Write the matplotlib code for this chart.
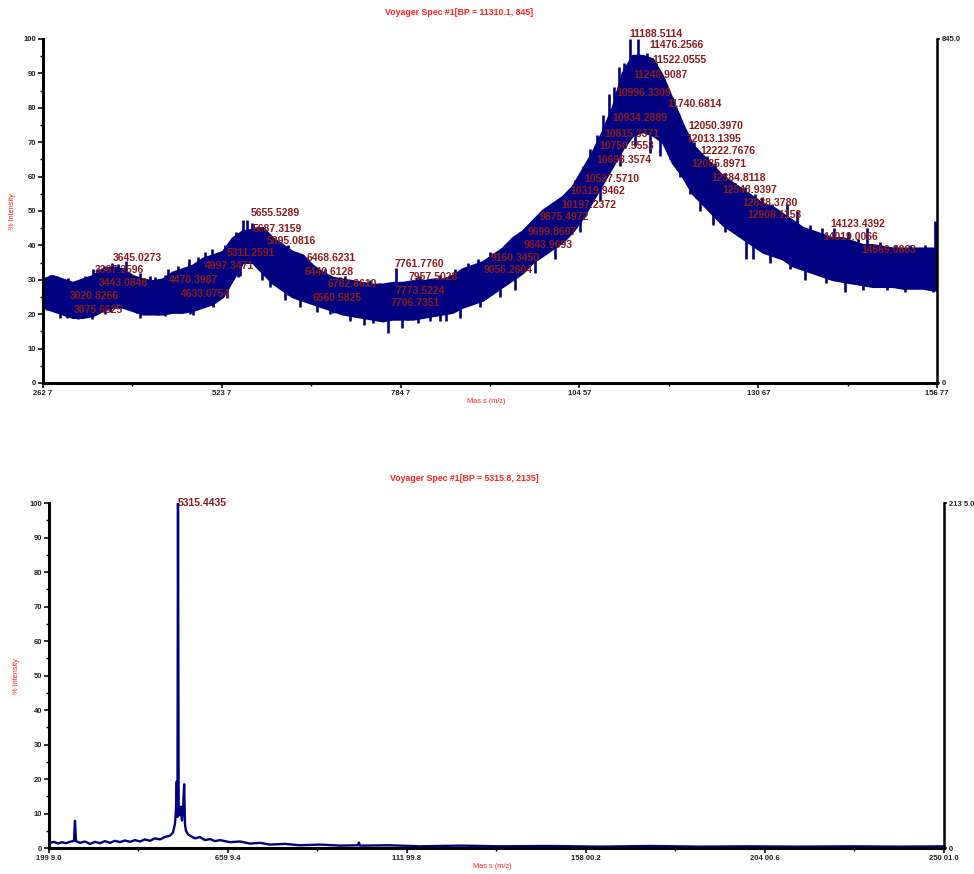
import numpy as np
import matplotlib
matplotlib.use("Agg")
import matplotlib.pyplot as plt
from matplotlib.ticker import FixedLocator, MultipleLocator

plt.rcParams['font.family'] = ['Liberation Sans', 'DejaVu Sans']

NAVY = '#000080'
PEAK_RED = '#8B1A1A'
RED = '#FF2020'

# ---- top spectrum: band of the noisy trace (mass, lower edge, upper edge)
top_mass = [2627, 2773, 2919, 3065, 3211, 3357, 3503, 3649, 3795, 3941,
            4087, 4233, 4379, 4525, 4671, 4817, 4963, 5109, 5255, 5401,
            5546, 5692, 5838, 5984, 6130, 6276, 6422, 6568, 6714, 6860,
            7006, 7152, 7298, 7444, 7590, 7736, 7882, 8028, 8174, 8320,
            8466, 8612, 8758, 8904, 9050, 9196, 9342, 9488, 9634, 9780,
            9926, 10072, 10218, 10364, 10510, 10655, 10801, 10947, 11093, 11239,
            11385, 11531, 11677, 11823, 11969, 12115, 12261, 12407, 12553, 12699,
            12845, 12991, 13137, 13283, 13429, 13575, 13721, 13867, 14013, 14159,
            14305, 14451, 14597, 14743, 14889, 15035, 15181, 15327, 15473, 15619,
            15677]
top_lo = [22, 21, 20, 19, 19, 19.5, 21, 22, 22, 21,
          20, 20, 20, 20.5, 20.5, 21, 22, 23, 25, 30,
          35, 35, 32, 29, 27, 25, 24, 23, 22, 21,
          20, 19.5, 19, 18.5, 18, 18.5, 18.5, 18.5, 19, 19.5,
          20, 20.5, 22, 23, 24, 26, 28, 30, 32, 35,
          37, 39, 41, 44, 48, 53, 58, 63, 68, 72,
          73, 72, 70, 64, 60, 55, 52, 49, 46, 44,
          42, 40, 38, 37, 36, 34, 33, 32, 31, 30,
          29.5, 29, 28.5, 28, 28, 28, 27.5, 27.5, 27.5, 27,
          27]
top_hi = [30, 31, 30, 29, 30, 31, 33, 33.5, 33, 31,
          30, 29.5, 30, 32, 33, 34, 36, 37, 38, 42,
          44, 44.5, 45, 42, 40, 38, 37, 34, 32, 30.5,
          30, 29.5, 29, 28.5, 28.5, 29, 29, 29.5, 29.5, 30,
          30, 31, 33, 34, 35, 37, 39, 42, 44, 47,
          50, 52, 54, 57, 62, 67, 73, 80, 90, 95,
          95, 94, 89, 82, 75, 69, 66, 63, 60, 58,
          56, 54, 52, 51, 49, 47, 45, 44, 43, 42,
          42, 41, 40, 40, 39.5, 39, 39, 39, 39, 39,
          38]

# single points sticking out above the band
top_spike_mass = [2685, 2729, 2831, 2992, 3021, 3240, 3284, 3357, 3415, 3517,
                  3561, 3634, 3722, 3839, 3897, 4043, 4189, 4262, 4408, 4452,
                  4598, 4758, 4890, 4992, 5094, 5240, 5284, 5386, 5444, 5546,
                  5605, 5678, 5765, 5882, 6086, 6203, 6335, 6481, 6539, 6641,
                  6743, 6962, 7035, 7152, 7371, 7400, 7546, 7780, 8086, 8130,
                  8320, 8422, 8568, 8641, 8831, 8977, 9152, 9371, 9546, 9590,
                  9707, 9882, 9998, 10130, 10217, 10261, 10393, 10509, 10612, 10714,
                  10801, 10889, 10962, 11035, 11108, 11195, 11312, 11385, 11444, 11502,
                  11575, 11648, 11721, 11809, 11911, 12013, 12130, 12217, 12319, 12436,
                  12582, 12728, 12874, 13020, 13122, 13268, 13487, 13633, 13823, 13998,
                  14173, 14377, 14524, 14655, 14845, 15078, 15283, 15502, 15647]
top_spike_val = [30.5, 31.5, 31, 30.5, 29.5, 31, 30, 33, 33, 34,
                 32, 35, 34.5, 35.5, 30.9, 32, 31, 30.9, 31.4, 33,
                 34, 36, 36.5, 38, 39, 36.2, 40, 39.4, 44, 47.5,
                 47.5, 46.5, 45.5, 44, 41, 40, 38, 35.3, 35, 31.9,
                 33, 30.9, 31, 30, 29.5, 30, 29, 33.5, 30.9, 31,
                 30, 31.5, 31.4, 33, 35, 36, 38, 40, 43, 44,
                 45, 48, 51, 53, 54.5, 55, 59, 63, 68, 72,
                 78, 84, 86, 92, 93, 100, 100, 95, 96, 94,
                 93, 90, 87, 83, 78, 72, 70, 67, 66, 64,
                 61, 58, 57, 55, 54, 52, 52, 50, 46, 45,
                 45, 44, 42, 45, 41, 40, 40, 40, 47]
# single points dropping below the band
top_dip_mass = [2685, 2875, 2977, 3138, 3342, 3532, 3605, 3999, 4043, 4306,
                4408, 4627, 4773, 4817, 5108, 5313, 5473, 5503, 5824, 5941,
                6159, 6203, 6378, 6627, 6816, 6860, 7108, 7313, 7444, 7663,
                7867, 7940, 8101, 8276, 8422, 8510, 8714, 9006, 9298, 9517,
                9809, 10101, 10466, 10758, 11049, 11268, 11487, 11633, 11779, 11925,
                12071, 12217, 12407, 12582, 12889, 12991, 13239, 13531, 13750, 14057,
                14334, 14597, 14947, 15210, 15618]
top_dip_val = [21.2, 19, 18.9, 18.5, 18.5, 20, 20.7, 20.4, 19, 19.8,
               19.5, 20.3, 20, 19.8, 22, 24.6, 30.9, 31, 30, 28,
               24, 25.5, 22, 20.7, 20, 20.3, 18, 17, 17.4, 14.5,
               16, 18.3, 17.5, 17.9, 17.9, 18, 19, 22, 25, 27,
               32, 36, 44, 53, 63, 69, 67, 66, 65, 60,
               55, 50, 46, 44, 36, 36, 35, 33, 30, 29,
               26.5, 27, 27, 26.5, 26.5]

top_peak_mass = [11188.5114, 11476.2566, 11522.0555, 11240.9087, 10996.3309,
                 11740.6814, 10934.2889, 12050.3970, 10815.3371, 12013.1395,
                 10750.5553, 12222.7676, 10698.3574, 12085.8971, 10527.5710,
                 12384.8118, 10319.9462, 12543.9397, 10197.2372, 12838.3780,
                 9875.4972, 12908.1153, 9699.8607, 9643.9693, 9160.3450,
                 9056.2604, 14123.4392, 14019.0066, 14569.0863, 5655.5289,
                 5687.3159, 5895.0816, 5311.2591, 4997.3471, 6468.6231,
                 6440.6128, 6782.8610, 6560.5825, 3645.0273, 3387.2596,
                 3443.0848, 4470.3987, 4633.0754, 3020.8266, 3075.6625,
                 7761.7760, 7957.5028, 7773.5224, 7706.7351]
# where the software put each label (in % intensity)
top_label_y = [101.5, 98.3, 93.9, 89.5, 84.3,
               81.1, 77.0, 74.7, 72.4, 70.9,
               68.9, 67.4, 64.8, 63.7, 59.3,
               59.6, 55.8, 56.1, 51.7, 52.3,
               48.3, 48.8, 43.9, 40.1, 36.3,
               32.8, 46.2, 42.4, 38.7, 49.4,
               44.8, 41.3, 37.8, 34.0, 36.3,
               32.3, 28.8, 24.7, 36.3, 32.8,
               29.1, 29.9, 25.9, 25.3, 21.2,
               34.6, 30.8, 26.7, 23.3]

top_xticks = [2627, 5237, 7847, 10457, 13067, 15677]
top_xticklabels = ['262 7', '523 7', '784 7', '104 57', '130 67', '156 77']

# ---- bottom spectrum
bot_mass = [1999, 2025, 2128, 2230, 2333, 2436, 2539, 2642, 2667, 2693,
            2796, 2924, 3053, 3181, 3310, 3438, 3567, 3695, 3824, 3952,
            4081, 4209, 4338, 4466, 4595, 4723, 4852, 4980, 5109, 5186,
            5237, 5263, 5283, 5301, 5315, 5333, 5366, 5391, 5417, 5443,
            5474, 5494, 5520, 5571, 5622, 5751, 5880, 6008, 6137, 6265,
            6394, 6651, 6908, 7165, 7422, 7679, 8064, 8450, 8964, 9478,
            9940, 9966, 9992, 10763, 11534, 12562, 13590, 14875, 16160, 17445,
            18730, 20015, 21300, 22585, 23869, 25001]
bot_int = [14, 1.5, 1.8, 1.3, 1.7, 1.4, 1.8, 2.1, 7.9, 2.0,
           1.5, 1.9, 1.2, 1.8, 1.4, 2.0, 1.5, 2.1, 1.7, 2.2,
           1.8, 2.3, 1.9, 2.5, 2.1, 2.8, 2.5, 3.2, 3.6, 4.5,
           7, 11, 19.3, 9, 100, 10, 9.5, 12, 8, 11,
           18.5, 7, 5, 4, 3.6, 2.8, 3.2, 2.3, 2.6, 2.0,
           2.3, 1.7, 1.9, 1.3, 1.5, 1.0, 1.2, 0.8, 1.0, 0.7,
           0.8, 1.6, 0.7, 0.8, 0.5, 0.7, 0.5, 0.6, 0.4, 0.6,
           0.4, 0.5, 0.4, 0.5, 0.4, 0.5]
bot_peak_mass = [5315.4435]
bot_label_y = [100]

bot_xticks = [1999.0, 6599.4, 11199.8, 15800.2, 20400.6, 25001.0]
bot_xticklabels = ['199 9.0', '659 9.4', '111 99.8', '158 00.2', '204 00.6', '250 01.0']


def style_axes(ax, xticks, xlabels, right_max, right_label):
    ax.set_xlim(xticks[0], xticks[-1])
    ax.set_ylim(0, 100)
    ax.set_xticks(xticks)
    ax.set_xticklabels(xlabels)
    mids = [(a + b) / 2 for a, b in zip(xticks[:-1], xticks[1:])]
    ax.xaxis.set_minor_locator(FixedLocator(mids))
    ax.yaxis.set_major_locator(MultipleLocator(10))
    ax.yaxis.set_minor_locator(MultipleLocator(5))
    for side in ['top', 'right']:
        ax.spines[side].set_visible(False)
    for side in ['left', 'bottom']:
        ax.spines[side].set_linewidth(2.2)
    ax.tick_params(which='major', length=3.5, width=1.3, labelsize=5.5,
                   pad=1.5, colors='#222222')
    ax.tick_params(which='minor', length=2, width=1.0)
    for lab in ax.get_xticklabels() + ax.get_yticklabels():
        lab.set_fontweight('bold')

    twin = ax.twinx()
    twin.set_ylim(0, right_max)
    twin.set_yticks([0, right_max])
    twin.set_yticklabels(['0', right_label])
    for side in ['top', 'left', 'bottom']:
        twin.spines[side].set_visible(False)
    twin.spines['right'].set_linewidth(1.8)
    twin.tick_params(length=2, width=1.2, labelsize=5.5, pad=1.5, colors='#222222')
    for lab in twin.get_yticklabels():
        lab.set_fontweight('bold')


fig = plt.figure(figsize=(9.74, 8.74), dpi=100)

# top panel
ax1 = fig.add_axes([0.0441, 0.5618, 0.918, 0.3936])
ax1.fill_between(top_mass, top_lo, top_hi, color=NAVY, lw=0)
ax1.plot(top_mass, top_hi, color=NAVY, lw=2)
ax1.plot(top_mass, top_lo, color=NAVY, lw=2)
spike_top = np.array(top_spike_val)
ax1.vlines(top_spike_mass, spike_top - 9, spike_top, color=NAVY, lw=1.9)
dip_bot = np.array(top_dip_val)
ax1.vlines(top_dip_mass, dip_bot, dip_bot + 9, color=NAVY, lw=1.9)
for m, y in zip(top_peak_mass, top_label_y):
    ax1.text(m, y, f'{m:.4f}', color=PEAK_RED, fontsize=7.5, fontweight='bold',
             ha='left', va='center', clip_on=False)
style_axes(ax1, top_xticks, top_xticklabels, 845, '845.0')

# bottom panel
ax2 = fig.add_axes([0.0503, 0.0297, 0.9187, 0.3947])
ax2.plot(bot_mass, bot_int, color=NAVY, lw=1.7)
for m, y in zip(bot_peak_mass, bot_label_y):
    ax2.text(m, y, f'{m:.4f}', color=PEAK_RED, fontsize=7.5, fontweight='bold',
             ha='left', va='center', clip_on=False)
style_axes(ax2, bot_xticks, bot_xticklabels, 2135, '213 5.0')

# titles and axis captions, as placed by the instrument software
fig.text(0.471, 0.986, 'Voyager Spec #1[BP = 11310.1, 845]', color=RED,
         fontsize=6.3, fontweight='bold', ha='center', va='center')
fig.text(0.477, 0.453, 'Voyager Spec #1[BP = 5315.8, 2135]', color=RED,
         fontsize=6.3, fontweight='bold', ha='center', va='center')
fig.text(0.499, 1 - 402 / 874, 'Mas s (m/z)', color=RED, fontsize=5.3,
         ha='center', va='center')
fig.text(0.505, 1 - 867 / 874, 'Mas s (m/z)', color=RED, fontsize=5.3,
         ha='center', va='center')
fig.text(12 / 974, 1 - 211 / 874, '% Intensity', color=RED, fontsize=5.3,
         rotation=90, ha='center', va='center')
fig.text(17 / 974, 1 - 676 / 874, '% Intensity', color=RED, fontsize=5.3,
         rotation=90, ha='center', va='center')

fig.savefig('out.png', dpi=100)
